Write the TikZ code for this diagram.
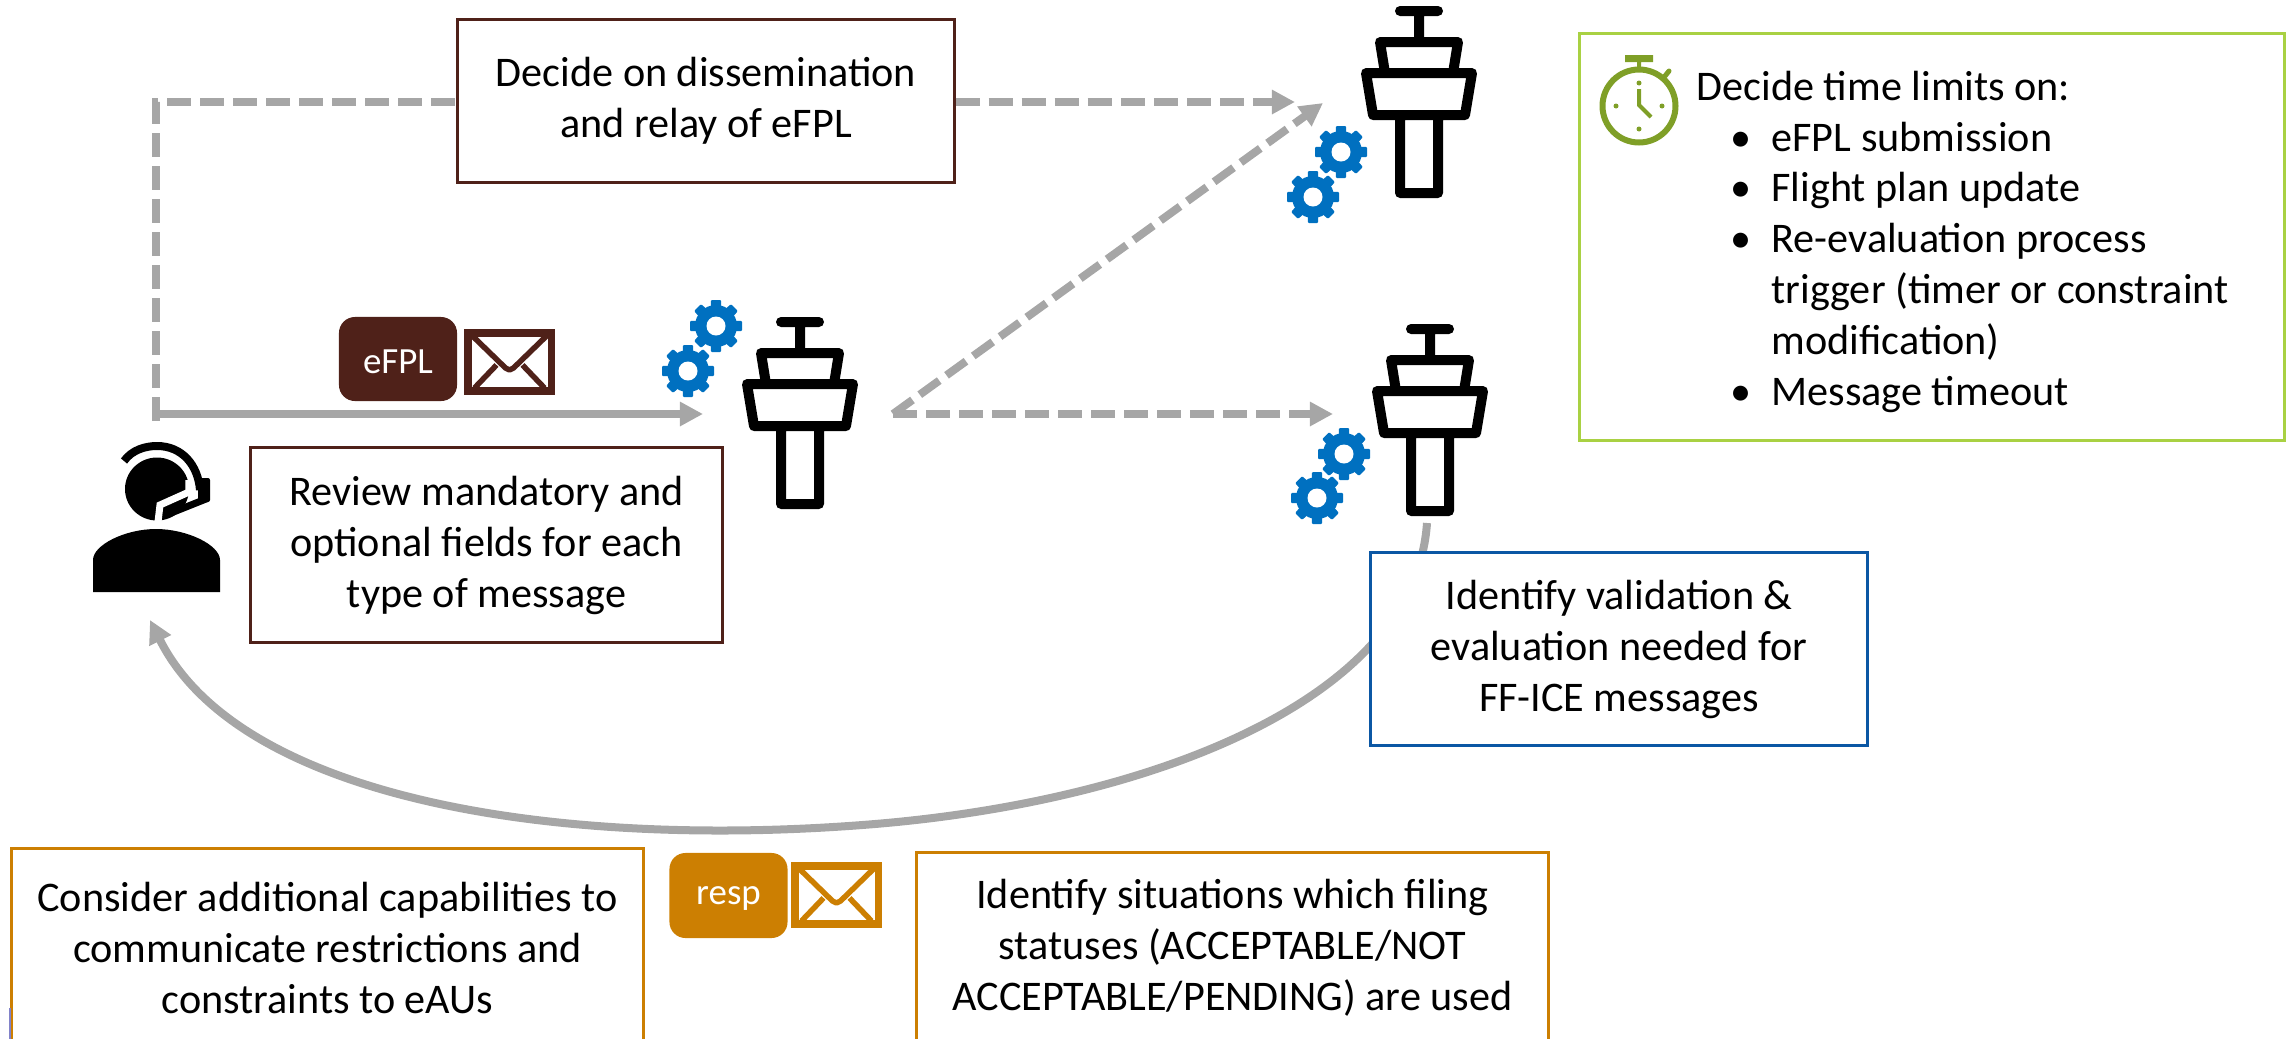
\documentclass[tikz,border=0pt]{standalone}
\usepackage{xcolor}
\usepackage{fontspec}
\setmainfont{Carlito}
\usetikzlibrary{arrows.meta}
\definecolor{arrowgray}{HTML}{A6A6A6}
\definecolor{efplbrown}{HTML}{4F2119}
\definecolor{respgold}{HTML}{CC7F02}
\definecolor{valblue}{HTML}{0B57A4}
\definecolor{gearblue}{HTML}{0070C0}
\definecolor{limitgreen}{HTML}{A9D143}
\definecolor{clockgreen}{HTML}{7F9F27}
\newcommand{\limititem}[1]{\makebox[21.3pt][l]{\hspace*{9.7pt}\textbullet}#1}
\tikzset{
  labeltext/.style={font=\fontsize{12}{14.5}\selectfont, align=center},
  toppad/.style={execute at begin node={\rule{0pt}{11pt}}},
  brownbox/.style={draw=efplbrown, line width=0.3mm, fill=white, labeltext, toppad},
  goldbox/.style={draw=respgold, line width=0.3mm, fill=white, labeltext},
  bluebox/.style={draw=valblue, line width=0.3mm, fill=white, labeltext, toppad},
  flowline/.style={draw=arrowgray, line width=0.8mm, -{Triangle[length=2.3mm,width=2.3mm]}},
  dashline/.style={flowline, dash pattern=on 0.24cm off 0.09cm},
  msgtag/.style={rounded corners=1.6mm, text=white, font=\fontsize{10.5}{12}\selectfont, minimum width=1.18cm, inner ysep=0pt},
  tower/.pic={
    \draw[black, line width=1mm, line cap=round, line join=round]
      (-19,5) -- (19,5) (0,5) -- (0,36)
      (-34,67) -- (-39,36) -- (39,36) -- (34,67)
      (-53,67) -- (53,67) -- (46,109) -- (-46,109) -- cycle
      (-19,109) -- (-19,187) -- (19,187) -- (19,109);
  },
  gear/.pic={
    \fill[gearblue] (0,0) circle (21);
    \foreach \ang in {0,45,...,315}
      \fill[gearblue, rotate=\ang, rounded corners=0.1mm] (-6,0) -- (-5,-26) -- (5,-26) -- (6,0) -- cycle;
    \fill[white] (0,0) circle (9.5);
  },
  envelope/.pic={
    \fill[pic actions] (-45,-32) rectangle (45,32);
    \fill[white] (-38,-25) rectangle (38,25);
    \draw[pic actions, line width=0.55mm, line join=round, fill=none]
      (-38,-27) -- (-4,6) -- (0,8) -- (4,6) -- (38,-27)
      (-35,26) -- (-13,3) (35,26) -- (13,3);
  },
}
\begin{document}
\begin{tikzpicture}[x=0.01cm, y=-0.01cm]
  \useasboundingbox (0,0) rectangle (2287,1039);

  % free ends of the connectors
  \coordinate (opCorner) at (156,102);
  \coordinate (opStub) at (156,421);
  \coordinate (opOut) at (156,414);
  \coordinate (opIn) at (150,620);
  \coordinate (towerAin) at (703,414);
  \coordinate (towerAout) at (893,414);
  \coordinate (towerBin) at (1295,102);
  \coordinate (towerBdiag) at (1323,103);
  \coordinate (towerCin) at (1333,414);
  \coordinate (towerCout) at (1427,523);

  % return path runs behind the boxes
  \draw[flowline] (towerCout) .. controls (1415,700) and (1150,801) .. (875,824)
     .. controls (560,850) and (240,800) .. (opIn);

  \node[brownbox, minimum width=4.96cm, minimum height=1.62cm] (dissem) at (706,101)
     {Decide on dissemination\\and relay of eFPL};
  \node[brownbox, minimum width=4.71cm, minimum height=1.94cm] (review) at (486.5,545)
     {Review mandatory and\\optional fields for each\\type of message};
  \node[bluebox, minimum width=4.96cm, minimum height=1.92cm] (validate) at (1619,649)
     {Identify validation \&\\evaluation needed for\\FF-ICE messages};
  \node[goldbox, minimum width=6.31cm, minimum height=1.98cm] (capab) at (327.5,948)
     {Consider additional capabilities to\\communicate restrictions and\\constraints to eAUs};
  \node[goldbox, minimum width=6.31cm, minimum height=1.90cm] (status) at (1232.5,948)
     {Identify situations which filing\\statuses (ACCEPTABLE/NOT\\ACCEPTABLE/PENDING) are used};
  \fill[gray!60!blue!70!white] (9,1008) rectangle (11,1039);

  % connectors
  \draw[dashline, -] (opStub) -- (opCorner) -- (dissem.west |- opCorner);
  \draw[dashline] (dissem.east |- towerBin) -- (towerBin);
  \draw[flowline] (opOut) -- (towerAin);
  \draw[dashline] (towerAout) -- (towerBdiag);
  \draw[dashline] (towerAout) -- (towerCin);

  % towers and gears
  \pic at (800,317) {tower};
  \pic at (1419,6) {tower};
  \pic at (1430,324) {tower};
  \foreach \gx/\gy in {716/326, 688/371, 1341/152, 1313/197, 1344/454, 1317/498}
    \pic at (\gx,\gy) {gear};

  % operator with headset
  \fill (93,592) -- (93,560) .. controls (93,545) and (125,529) .. (156,529)
     .. controls (187,529) and (220,545) .. (220,560) -- (220,592) -- cycle;
  \fill (157,489) ellipse (32 and 31.5);
  \draw[white, line width=0.7mm] (158,522) -- (160,505) -- (189,492) -- (189,480);
  \draw[line width=0.8mm] (124,461) .. controls (132,450) and (145,446) .. (157,446)
     .. controls (182,446) and (198,465) .. (200,490);
  \fill[rounded corners=0.2mm] (198,478) rectangle (210,502);
  \draw[line width=0.7mm, line cap=round] (206,499) -- (171,513);

  % message tags
  \node[msgtag, fill=efplbrown, minimum height=0.84cm, text height=10pt, text depth=1.7pt] (efpl) at (398,359) {eFPL};
  \pic[fill=efplbrown, draw=efplbrown] at (509.5,362) {envelope};
  \node[msgtag, fill=respgold, minimum height=0.85cm, text height=7pt, text depth=2pt] (resp) at (728.5,895.5) {resp};
  \pic[fill=respgold, draw=respgold] at (836.5,895) {envelope};

  % time limits
  \node[draw=limitgreen, line width=0.3mm, minimum width=7.04cm, minimum height=4.06cm] (limits) at (1932,237) {};
  \node[anchor=north west, labeltext, align=left, inner sep=0pt] (limitlist) at (1696,70)
     {Decide time limits on:\\
      \limititem{eFPL submission}\\
      \limititem{Flight plan update}\\
      \limititem{Re-evaluation process}\\
      \hspace*{21.3pt}trigger (timer or constraint\\
      \hspace*{21.3pt}modification)\\
      \limititem{Message timeout}};

  % stopwatch
  \draw[clockgreen, line width=0.6mm] (1639,106) circle (36.5);
  \fill[clockgreen] (1625,55) rectangle (1653,62) (1637,62) rectangle (1641,70);
  \draw[clockgreen, line width=0.5mm, line cap=round] (1665,76) -- (1669,71);
  \draw[clockgreen, line width=0.4mm] (1639,89) -- (1639,105) -- (1651,117);
  \foreach \dx/\dy in {0/-23, 23/0, 0/23, -23/0}
    \fill[clockgreen] (1639+\dx,106+\dy) circle (2.5);
\end{tikzpicture}
\end{document}
